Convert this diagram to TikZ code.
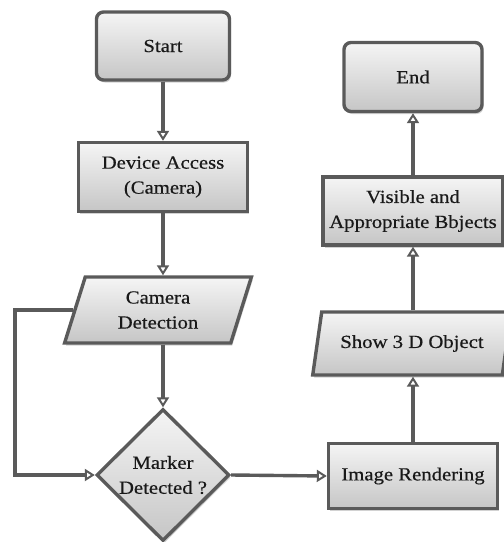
\documentclass[tikz,border=0pt]{standalone}
\usepackage{fontspec}
\setmainfont{Liberation Serif}[FakeStretch=1.12,FakeBold=0.5]
\usetikzlibrary{arrows.meta,shapes.geometric,shadows}
\definecolor{edge}{RGB}{90,90,90}
\definecolor{txt}{RGB}{25,25,25}
\begin{document}
\begin{tikzpicture}[x=1pt,y=-1pt,
  base/.style={draw=edge, line width=3.4pt, top color=gray!8, bottom color=gray!45,
    drop shadow={shadow xshift=1.5pt, shadow yshift=-2.5pt, fill=gray!50, opacity=0.7},
    text=txt, font=\fontsize{18.5}{25}\selectfont, align=center, inner sep=0pt},
  termbox/.style={base, rectangle, rounded corners=7pt},
  procbox/.style={base, rectangle},
  iobox/.style={base, trapezium, trapezium stretches=true},
  decbox/.style={base, diamond},
  conn/.style={draw=edge, line width=3.4pt, -{Triangle[open, length=10pt, width=12pt, line width=2pt]}}
]
\useasboundingbox (0,0) rectangle (504,542);

\node[termbox, minimum width=133pt, minimum height=68pt] (start) at (163,46) {Start};
\node[procbox, minimum width=169pt, minimum height=69pt] (dev) at (163,177) {Device Access\\(Camera)};
\node[iobox, trapezium left angle=73, trapezium right angle=107, minimum width=187pt, minimum height=66pt] (cd) at (158,310) {Camera\\Detection};
\node[decbox, minimum width=133pt, minimum height=132pt] (dm) at (163,475) {Marker\\Detected ?};
\node[procbox, minimum width=169pt, minimum height=65pt] (ir) at (413,476) {Image Rendering};
\node[iobox, trapezium left angle=67, trapezium right angle=113, minimum width=199pt, minimum height=63pt] (s3) at (412,343.5) {Show 3 D Object};
\node[procbox, minimum width=180pt, minimum height=68pt] (vis) at (413,211) {Visible and\\Appropriate Bbjects};
\node[termbox, minimum width=138pt, minimum height=69pt] (end) at (413,77) {End};

\coordinate (fb) at (15,475);

\draw[conn] (start.south) -- (dev.north);
\draw[conn] (dev.south) -- (dev.south |- cd.north);
\draw[conn] (cd.south -| dm.north) -- (dm.north);
\draw[conn] (cd.west) -| (fb) -- (dm.west);
\draw[conn] (dm.east) -- (ir.west);
\draw[conn] (ir.north) -- (ir.north |- s3.south);
\draw[conn] (s3.north -| vis.south) -- (vis.south);
\draw[conn] (vis.north) -- (end.south);
\end{tikzpicture}
\end{document}
